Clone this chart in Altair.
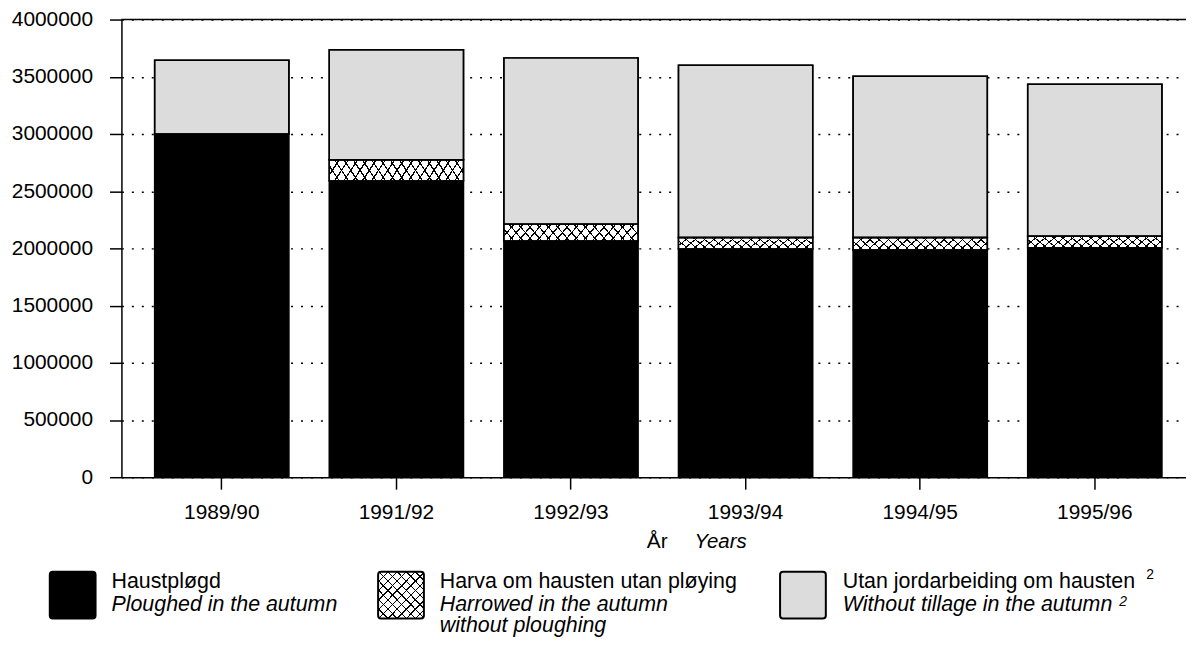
import altair as alt
import pandas as pd

# ---------------- data ----------------
years = ["1989/90", "1991/92", "1992/93", "1993/94", "1994/95", "1995/96"]
ploughed = [3000000, 2590000, 2065000, 1995000, 1985000, 2005000]
harrowed = [0, 185000, 145000, 100000, 110000, 100000]
no_tillage = [645000, 960000, 1455000, 1505000, 1410000, 1330000]
series_keys = ["ploughed", "harrowed", "none"]
y_ticks = [0, 500000, 1000000, 1500000, 2000000, 2500000, 3000000, 3500000, 4000000]

legend_no = ["Haustpløgd", "Harva om hausten utan pløying", "Utan jordarbeiding om hausten"]
legend_en = ["Ploughed in the autumn", "Harrowed in the autumn", "Without tillage in the autumn"]
legend_en_extra = "without ploughing"
axis_title_no = "År"
axis_title_en = "Years"
footnote = "2"

# ---------------- table ----------------
rows = []
for i, yr in enumerate(years):
    base = 0
    for key, vals in zip(series_keys, [ploughed, harrowed, no_tillage]):
        v = vals[i]
        if v > 0:
            rows.append({"year": yr, "series": key, "start": base, "end": base + v})
        base += v
df = pd.DataFrame(rows)

FONT = "Liberation Sans"
INK = "#000000"
CLEAR = "rgba(0,0,0,0)"
GRAY = "#dcdcdc"


def stripes(period, width):
    out = []
    c = 0.0
    while c < 1.0:
        e = min(c + width, 1.0)
        out += [(c, INK), (e, INK), (e, CLEAR)]
        nxt = c + period
        out.append((min(nxt, 1.0), CLEAR))
        c = nxt
    return [alt.GradientStop(color=col, offset=round(o, 5)) for o, col in out]


# hatch for bars (bar width ~135 px, hatch height ~14 px)
a, b = 1.1, 1.1 * 14 / 135
span = 135 * (a * a + b * b) / a
bar_stops = stripes(9.3 / span, 1.5 / span)
hatchA = alt.LinearGradient(gradient="linear", stops=bar_stops, x1=0, y1=0, x2=a, y2=b)
hatchB = alt.LinearGradient(gradient="linear", stops=bar_stops, x1=0, y1=1, x2=a, y2=1 - b)
# hatch for legend swatch (square)
sw_stops = stripes(0.1, 0.015)
swA = alt.LinearGradient(gradient="linear", stops=sw_stops, x1=0, y1=0, x2=1, y2=1)
swB = alt.LinearGradient(gradient="linear", stops=sw_stops, x1=0, y1=1, x2=1, y2=0)

xscale = alt.Scale(paddingInner=0.231, paddingOuter=0.164, align=0.58)
yscale = alt.Scale(domain=[0, 4000000], nice=False)

xaxis = alt.Axis(title=None, labelAngle=0, labelFont=FONT, labelFontSize=21, labelColor="black",
                 labelPadding=13, tickSize=12, tickColor="black", tickWidth=1.5,
                 domainColor="black", domainWidth=1.5, grid=False, zindex=1)
yaxis = alt.Axis(title=None, values=y_ticks, format="d", labelFont=FONT, labelFontSize=21,
                 labelColor="black", labelPadding=17, tickSize=12, tickColor="black",
                 tickWidth=1.5, domainColor="black", domainWidth=1.5, grid=True,
                 gridColor="black", gridDash=[2, 8], gridWidth=1.5)

base = alt.Chart(df).encode(
    x=alt.X("year:N", sort=years, scale=xscale, axis=xaxis),
    y=alt.Y("start:Q", scale=yscale, axis=yaxis),
    y2="end:Q",
)

bars = base.mark_bar(stroke="black", strokeWidth=1.5).encode(
    fill=alt.Fill("series:N", scale=alt.Scale(domain=series_keys, range=[INK, "#ffffff", GRAY]), legend=None)
)
hA = base.transform_filter(alt.datum.series == "harrowed").mark_bar(fill=hatchA, strokeWidth=0)
hB = base.transform_filter(alt.datum.series == "harrowed").mark_bar(fill=hatchB, strokeWidth=0)
outline = base.transform_filter(alt.datum.series != "ploughed").mark_bar(
    fillOpacity=0, stroke="black", strokeWidth=1.5)

top_rule = alt.Chart(pd.DataFrame({"v": [y_ticks[-1]]})).mark_rule(
    color="black", strokeWidth=1.5).encode(y="v:Q")


def txt(s, x, y, italic=False, size=21.5, line_height=22.5):
    return alt.Chart(pd.DataFrame({"k": [0]})).mark_text(
        text=s, align="left", baseline="alphabetic", font=FONT, fontSize=size,
        lineHeight=line_height,
        fontStyle="italic" if italic else "normal", color="black"
    ).encode(x=alt.value(x), y=alt.value(y))


def swatch(fill, x0, y0, stroke=True):
    kw = dict(fill=fill, cornerRadius=3)
    if stroke:
        kw.update(stroke="black", strokeWidth=2)
    else:
        kw.update(strokeWidth=0)
    return alt.Chart(pd.DataFrame({"k": [0]})).mark_rect(**kw).encode(
        x=alt.value(x0), x2=alt.value(x0 + 46), y=alt.value(y0), y2=alt.value(y0 + 47))


# page y -> chart y: subtract 18
SW_Y = 555
L1, L2 = 571, 594
layers = [bars, hA, hB, outline, top_rule,
          txt(axis_title_no, 528, 531, size=21), txt(axis_title_en, 576, 531, italic=True, size=20.5),
          swatch(INK, -72, SW_Y),
          txt(legend_no[0], -10, L1), txt(legend_en[0], -10, L2, italic=True),
          swatch("#ffffff", 258, SW_Y, stroke=False), swatch(swA, 258, SW_Y, stroke=False),
          swatch(swB, 258, SW_Y, stroke=False), swatch(CLEAR, 258, SW_Y),
          txt(legend_no[1], 320, L1),
          txt([legend_en[1], legend_en_extra], 320, L2, italic=True, line_height=22),
          swatch(GRAY, 662, SW_Y),
          txt(legend_no[2], 725, L1), txt(legend_en[2], 725, L2, italic=True),
          txt(footnote, 1030, 562, size=14), txt(footnote, 1003, 589, italic=True, size=14)]

chart = alt.layer(*layers).properties(
    width=1070, height=460,
    autosize=alt.AutoSizeParams(type="none"),
    padding={"left": 114, "top": 10, "right": 0, "bottom": 159},
    background="white",
).configure_view(stroke=None)

chart.save("out.html", embed_options={"renderer": "svg", "actions": False})
